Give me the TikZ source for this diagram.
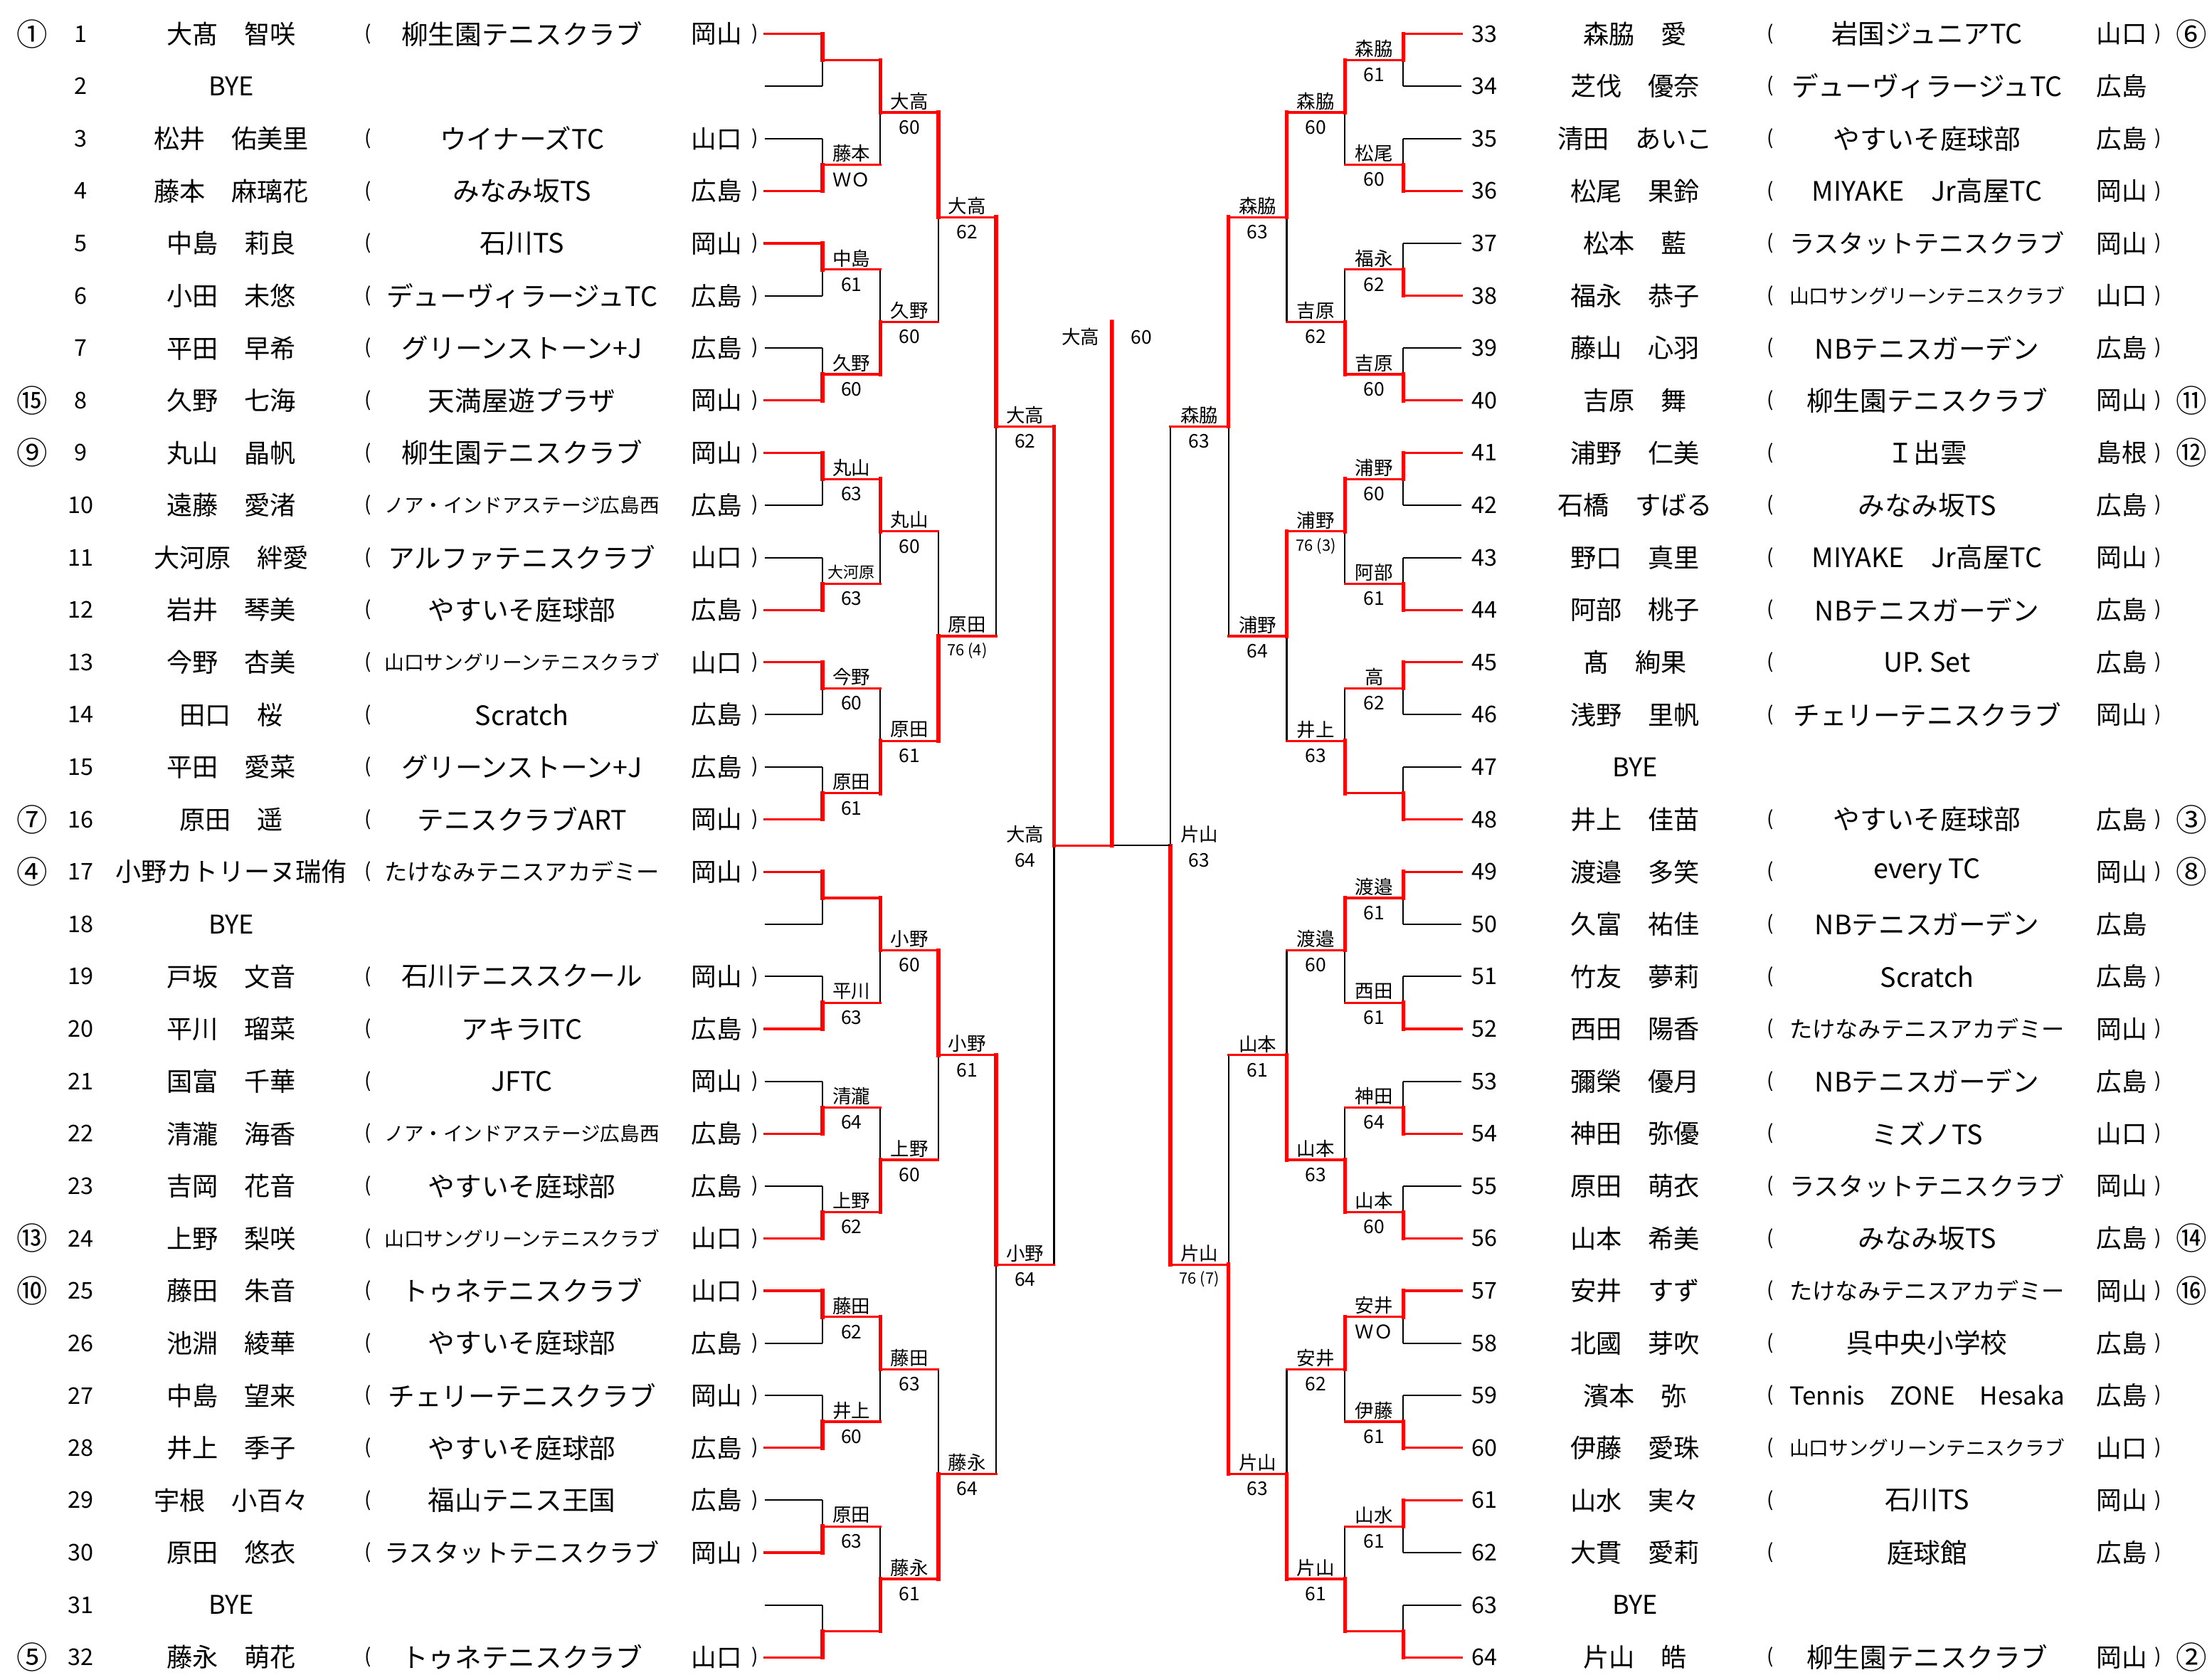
\documentclass[tikz,border=0pt]{standalone}
\usepackage{fontspec}
\setmainfont{Noto Sans CJK JP}
\usepackage{graphicx}
\pgfdeclarelayer{front}
\pgfsetlayers{main,front}

\newsavebox\clubbox
\newcommand\clubfit[1]{\sbox\clubbox{#1}%
  \ifdim\wd\clubbox>3.9cm\resizebox{3.9cm}{!}{\usebox\clubbox}\else\usebox\clubbox\fi}
\newcommand\smalltag[1]{{\fontsize{6.3}{7}\selectfont #1}}

\tikzset{seedno/.style={font=\fontsize{12.5}{13}\selectfont, inner sep=0pt},
         drawno/.style={font=\fontsize{9.3}{10}\selectfont, inner sep=0pt},
         player/.style={font=\fontsize{10.4}{11}\selectfont, inner sep=0pt},
         club/.style={font=\fontsize{10.8}{11}\selectfont, inner sep=0pt},
         pref/.style={font=\fontsize{10.2}{11}\selectfont, inner sep=0pt},
         paren/.style={font=\fontsize{8}{9}\selectfont, inner sep=0pt},
         lost/.style={draw=black, line width=0.6pt},
         won/.style={draw=red, line width=0.95pt, line cap=rect},
         wonbar/.style={draw=red, line width=1.6pt, line cap=rect},
         winner/.style={font=\fontsize{7.6}{8}\selectfont, inner sep=0pt},
         score/.style={font=\fontsize{7.6}{8}\selectfont, inner sep=0pt},
        }

\begin{document}
\begin{tikzpicture}[x=0.02cm,y=-0.02cm]
        \useasboundingbox (0,0) rectangle (1568,1187);

        % left half
        \foreach \r in {1,...,32}{
            \pgfmathsetmacro\y{24+(\r-1)*37.12}
            \node[drawno](no-\r)at(57,\y){\r};
            \coordinate (e-\r) at (542,\y);
        }
        \foreach \r/\nm/\cl/\pf in {1/大髙　智咲/柳生園テニスクラブ/岡山,
            3/松井　佑美里/ウイナーズTC/山口, 4/藤本　麻璃花/みなみ坂TS/広島,
            5/中島　莉良/石川TS/岡山, 6/小田　未悠/デューヴィラージュTC/広島,
            7/平田　早希/グリーンストーン+J/広島, 8/久野　七海/天満屋遊プラザ/岡山,
            9/丸山　晶帆/柳生園テニスクラブ/岡山, 10/遠藤　愛渚/ノア・インドアステージ広島西/広島,
            11/大河原　絆愛/アルファテニスクラブ/山口, 12/岩井　琴美/やすいそ庭球部/広島,
            13/今野　杏美/山口サングリーンテニスクラブ/山口, 14/田口　桜/Scratch/広島,
            15/平田　愛菜/グリーンストーン+J/広島, 16/原田　遥/テニスクラブART/岡山,
            17/小野カトリーヌ瑞侑/たけなみテニスアカデミー/岡山,
            19/戸坂　文音/石川テニススクール/岡山, 20/平川　瑠菜/アキラITC/広島,
            21/国富　千華/JFTC/岡山, 22/清瀧　海香/ノア・インドアステージ広島西/広島,
            23/吉岡　花音/やすいそ庭球部/広島, 24/上野　梨咲/山口サングリーンテニスクラブ/山口,
            25/藤田　朱音/トゥネテニスクラブ/山口, 26/池淵　綾華/やすいそ庭球部/広島,
            27/中島　望来/チェリーテニスクラブ/岡山, 28/井上　季子/やすいそ庭球部/広島,
            29/宇根　小百々/福山テニス王国/広島, 30/原田　悠衣/ラスタットテニスクラブ/岡山,
            32/藤永　萌花/トゥネテニスクラブ/山口}{
            \pgfmathsetmacro\y{24+(\r-1)*37.12}
            \node[player](nm-\r)at(164,\y){\nm};
            \node[paren](op-\r)at(261,\y){(};
            \node[club](cl-\r)at(370,\y){\clubfit{\cl}};
            \node[pref](pf-\r)at(508,\y){\pf};
            \node[paren](cp-\r)at(535,\y){)};
        }
        \foreach \r in {2,18,31}{
            \pgfmathsetmacro\y{24+(\r-1)*37.12}
            \node[player](nm-\r)at(164,\y){BYE};
        }
        \foreach \r/\sd in {1/①,8/⑮,9/⑨,16/⑦,17/④,24/⑬,25/⑩,32/⑤}{
            \pgfmathsetmacro\y{24+(\r-1)*37.12}
            \node[seedno](sd-\r)at(23,\y){\sd};
        }

        % right half
        \foreach \r in {33,...,64}{
            \pgfmathsetmacro\y{24+(\r-33)*37.12}
            \node[drawno](no-\r)at(1052.5,\y){\r};
            \coordinate (e-\r) at (1036,\y);
        }
        \foreach \r/\nm/\cl/\pf/\pa in {33/森脇　愛/岩国ジュニアTC/山口/y,
            34/芝伐　優奈/デューヴィラージュTC/広島/n, 35/清田　あいこ/やすいそ庭球部/広島/y,
            36/松尾　果鈴/MIYAKE　Jr高屋TC/岡山/y, 37/松本　藍/ラスタットテニスクラブ/岡山/y,
            38/福永　恭子/山口サングリーンテニスクラブ/山口/y, 39/藤山　心羽/NBテニスガーデン/広島/y,
            40/吉原　舞/柳生園テニスクラブ/岡山/y, 41/浦野　仁美/Ｉ出雲/島根/y,
            42/石橋　すばる/みなみ坂TS/広島/y, 43/野口　真里/MIYAKE　Jr高屋TC/岡山/y,
            44/阿部　桃子/NBテニスガーデン/広島/y, 45/髙　絢果/UP. Set/広島/y,
            46/浅野　里帆/チェリーテニスクラブ/岡山/y, 48/井上　佳苗/やすいそ庭球部/広島/y,
            49/渡邉　多笑/every TC/岡山/y, 50/久富　祐佳/NBテニスガーデン/広島/n,
            51/竹友　夢莉/Scratch/広島/y, 52/西田　陽香/たけなみテニスアカデミー/岡山/y,
            53/彌榮　優月/NBテニスガーデン/広島/y, 54/神田　弥優/ミズノTS/山口/y,
            55/原田　萌衣/ラスタットテニスクラブ/岡山/y, 56/山本　希美/みなみ坂TS/広島/y,
            57/安井　すず/たけなみテニスアカデミー/岡山/y, 58/北國　芽吹/呉中央小学校/広島/y,
            59/濱本　弥/Tennis　ZONE　Hesaka/広島/y, 60/伊藤　愛珠/山口サングリーンテニスクラブ/山口/y,
            61/山水　実々/石川TS/岡山/y, 62/大貫　愛莉/庭球館/広島/y,
            64/片山　皓/柳生園テニスクラブ/岡山/y}{
            \pgfmathsetmacro\y{24+(\r-33)*37.12}
            \node[player](nm-\r)at(1159,\y){\nm};
            \node[paren](op-\r)at(1255,\y){(};
            \node[club](cl-\r)at(1366,\y){\clubfit{\cl}};
            \node[pref](pf-\r)at(1504,\y){\pf};
            \if\pa y\node[paren](cp-\r)at(1530,\y){)};\fi
        }
        \foreach \r in {47,63}{
            \pgfmathsetmacro\y{24+(\r-33)*37.12}
            \node[player](nm-\r)at(1159,\y){BYE};
        }
        \foreach \r/\sd in {33/⑥,40/⑪,41/⑫,48/③,49/⑧,56/⑭,57/⑯,64/②}{
            \pgfmathsetmacro\y{24+(\r-33)*37.12}
            \node[seedno](sd-\r)at(1553.5,\y){\sd};
        }

        % matches: side/round/match/winner/labelled/name/score
        \foreach \sd/\lv/\mk/\wn/\hl/\nm/\sc in {
            l/1/1/t/0/-/-, l/1/2/b/1/藤本/ＷＯ, l/1/3/t/1/中島/61, l/1/4/b/1/久野/60,
            l/1/5/t/1/丸山/63, l/1/6/b/1/\smalltag{大河原}/63, l/1/7/t/1/今野/60, l/1/8/b/1/原田/61,
            l/1/9/t/0/-/-, l/1/10/b/1/平川/63, l/1/11/b/1/清瀧/64, l/1/12/b/1/上野/62,
            l/1/13/t/1/藤田/62, l/1/14/b/1/井上/60, l/1/15/b/1/原田/63, l/1/16/b/0/-/-,
            l/2/1/t/1/大高/60, l/2/2/b/1/久野/60, l/2/3/t/1/丸山/60, l/2/4/b/1/原田/61,
            l/2/5/t/1/小野/60, l/2/6/b/1/上野/60, l/2/7/t/1/藤田/63, l/2/8/b/1/藤永/61,
            l/3/1/t/1/大高/62, l/3/2/b/1/原田/\smalltag{76 (4)}, l/3/3/t/1/小野/61, l/3/4/b/1/藤永/64,
            l/4/1/t/1/大高/62, l/4/2/t/1/小野/64,
            l/5/1/t/1/大高/64,
            r/1/1/t/1/森脇/61, r/1/2/b/1/松尾/60, r/1/3/b/1/福永/62, r/1/4/b/1/吉原/60,
            r/1/5/t/1/浦野/60, r/1/6/b/1/阿部/61, r/1/7/t/1/高/62, r/1/8/b/0/-/-,
            r/1/9/t/1/渡邉/61, r/1/10/b/1/西田/61, r/1/11/b/1/神田/64, r/1/12/b/1/山本/60,
            r/1/13/t/1/安井/ＷＯ, r/1/14/b/1/伊藤/61, r/1/15/t/1/山水/61, r/1/16/b/0/-/-,
            r/2/1/t/1/森脇/60, r/2/2/b/1/吉原/62, r/2/3/t/1/浦野/\smalltag{76 (3)}, r/2/4/b/1/井上/63,
            r/2/5/t/1/渡邉/60, r/2/6/b/1/山本/63, r/2/7/t/1/安井/62, r/2/8/b/1/片山/61,
            r/3/1/t/1/森脇/63, r/3/2/t/1/浦野/64, r/3/3/b/1/山本/61, r/3/4/b/1/片山/63,
            r/4/1/t/1/森脇/63, r/4/2/b/1/片山/\smalltag{76 (7)},
            r/5/1/b/1/片山/63}{
            \pgfmathsetmacro\yt{24+((\mk-1)*2^\lv+(2^(\lv-1)-1)/2)*37.12}
            \pgfmathsetmacro\yb{\yt+2^(\lv-1)*37.12}
            \pgfmathsetmacro\ym{(\yt+\yb)/2}
            \if\sd l
                \pgfmathsetmacro\xv{542+41.03*\lv}
                \pgfmathsetmacro\xo{542+41.03*(\lv+1)}
                \pgfmathtruncatemacro\rowa{2*\mk-1}
            \else
                \pgfmathsetmacro\xv{1036-41.3*\lv}
                \pgfmathsetmacro\xo{1036-41.3*(\lv+1)}
                \pgfmathtruncatemacro\rowa{32+2*\mk-1}
            \fi
            \pgfmathtruncatemacro\rowb{\rowa+1}
            \coordinate (\sd\lv-\mk-t) at (\xv,\yt);
            \coordinate (\sd\lv-\mk-b) at (\xv,\yb);
            \coordinate (\sd\lv-\mk-m) at (\xv,\ym);
            \coordinate (\sd\lv-\mk-o) at (\xo,\ym);
            \def\outline{won}
            \ifnum\lv=5 \if\sd r\def\outline{lost}\fi\fi
            \if\wn t
                \ifnum\lv=1 \draw[lost](e-\rowb)--(\sd\lv-\mk-b);\fi
                \draw[lost](\sd\lv-\mk-m)--(\sd\lv-\mk-b);
                \begin{pgfonlayer}{front}
                    \ifnum\lv=1 \draw[won](e-\rowa)--(\sd\lv-\mk-t);\fi
                    \draw[wonbar](\sd\lv-\mk-t)--(\sd\lv-\mk-m);
                \end{pgfonlayer}
            \else
                \ifnum\lv=1 \draw[lost](e-\rowa)--(\sd\lv-\mk-t);\fi
                \draw[lost](\sd\lv-\mk-t)--(\sd\lv-\mk-m);
                \begin{pgfonlayer}{front}
                    \ifnum\lv=1 \draw[won](e-\rowb)--(\sd\lv-\mk-b);\fi
                    \draw[wonbar](\sd\lv-\mk-b)--(\sd\lv-\mk-m);
                \end{pgfonlayer}
            \fi
            \begin{pgfonlayer}{front}
                \draw[\outline](\sd\lv-\mk-m)--(\sd\lv-\mk-o);
            \end{pgfonlayer}
            \ifnum\lv=5
                \pgfmathsetmacro\xl{\xv-(\xo-\xv)/2}
            \else
                \pgfmathsetmacro\xl{(\xv+\xo)/2}
            \fi
            \ifnum\hl=1
                \node[winner](wn-\sd\lv-\mk)at(\xl,\ym-8){\nm};
                \node[score](sc-\sd\lv-\mk)at(\xl,\ym+10.5){\sc};
            \fi
        }

        % final
        \coordinate (champ-top) at (788.2,228);
        \begin{pgfonlayer}{front}
            \draw[wonbar](l5-1-o)--(champ-top);
        \end{pgfonlayer}
        \node[winner](champ)at(766,239){大高};
        \node[score](champ-sc)at(809,239){60};
    \end{tikzpicture}
\end{document}
